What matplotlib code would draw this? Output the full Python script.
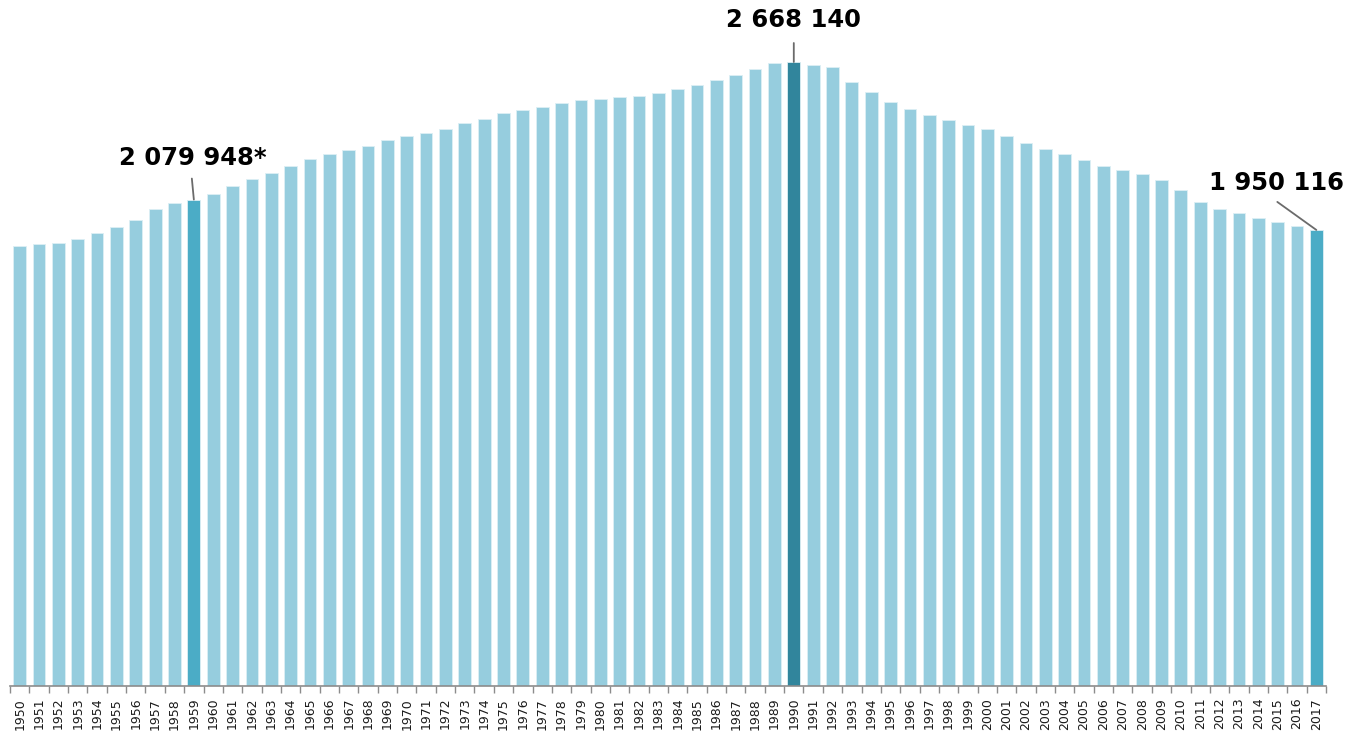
import matplotlib
matplotlib.use('Agg')
import matplotlib.pyplot as plt
import numpy as np

###  yearly values
years = list(range(1950, 2018))
values = [1881400, 1888700, 1894200, 1913100, 1937100, 1961500, 1991500,
          2041600, 2065500, 2079948, 2102800, 2138300, 2168300, 2192700,
          2224000, 2254000, 2272800, 2291200, 2309700, 2334100, 2351200,
          2364100, 2381200, 2406900, 2424000, 2449700, 2461300, 2474100,
          2492500, 2504100, 2509700, 2516900, 2522500, 2535400, 2552500,
          2570900, 2589800, 2613800, 2638100, 2662500, 2668140, 2655300,
          2645400, 2582500, 2539600, 2496800, 2466800, 2442400, 2418400,
          2399600, 2381200, 2351200, 2321200, 2295500, 2272800, 2248400,
          2222700, 2205600, 2187200, 2162800, 2119900, 2071500, 2039900,
          2021400, 2000000, 1985900, 1967100, 1950116]
labelled = {1959: '2 079 948*', 1990: '2 668 140', 2017: '1 950 116'}

###  colours
base = '#96CDDE'
colors = [base]*len(years)
colors[years.index(1959)] = '#4BACC6'
colors[years.index(2017)] = '#4BACC6'
colors[years.index(1990)] = '#31859C'

fig = plt.figure(figsize=(13.5, 7.33), dpi=100)
ax = fig.add_axes([10/1350, 47/733, 1316/1350, 686/733])

x = np.arange(len(years))
ax.bar(x, values, width=0.66, color=colors, edgecolor='#DDEFF4', linewidth=0.6)

ax.set_xlim(-0.5, len(years)-0.5)
ax.set_ylim(0, 686*2668140/624)

###  axes styling - only the bottom line with ticks between bars
for s in ['top', 'right', 'left']:
    ax.spines[s].set_visible(False)
ax.spines['bottom'].set_color('#8C8C8C')
ax.spines['bottom'].set_linewidth(1.2)
ax.set_yticks([])
ax.set_xticks(x)
ax.set_xticklabels([str(y) for y in years], rotation=90, fontsize=9,
                   color='#1a1a1a')
ax.tick_params(axis='x', which='major', length=0, pad=8.5)
ax.set_xticks(np.arange(-0.5, len(years)), minor=True)
ax.tick_params(axis='x', which='minor', length=5, width=1, color='#8C8C8C')

###  leader lines and labels: (line end offset, text offset) in pixels
offsets = {1959: ((-2, 21), (-1, 42)),
           1990: ((0, 19), (0, 42)),
           2017: ((-39, 28), (-40, 47))}
for yr, txt in labelled.items():
    i = years.index(yr)
    v = values[i]
    (lx, ly), (tx, ty) = offsets[yr]
    ax.annotate('', xy=(i, v), xytext=(lx, ly), textcoords='offset pixels',
                arrowprops=dict(arrowstyle='-', color='#6b6b6b', lw=1.3,
                                shrinkA=0, shrinkB=0))
    ax.annotate(txt, xy=(i, v), xytext=(tx, ty), textcoords='offset pixels',
                ha='center', va='center', fontsize=17.5, fontweight='bold',
                color='black', annotation_clip=False)

fig.savefig('out.png', dpi=100)
